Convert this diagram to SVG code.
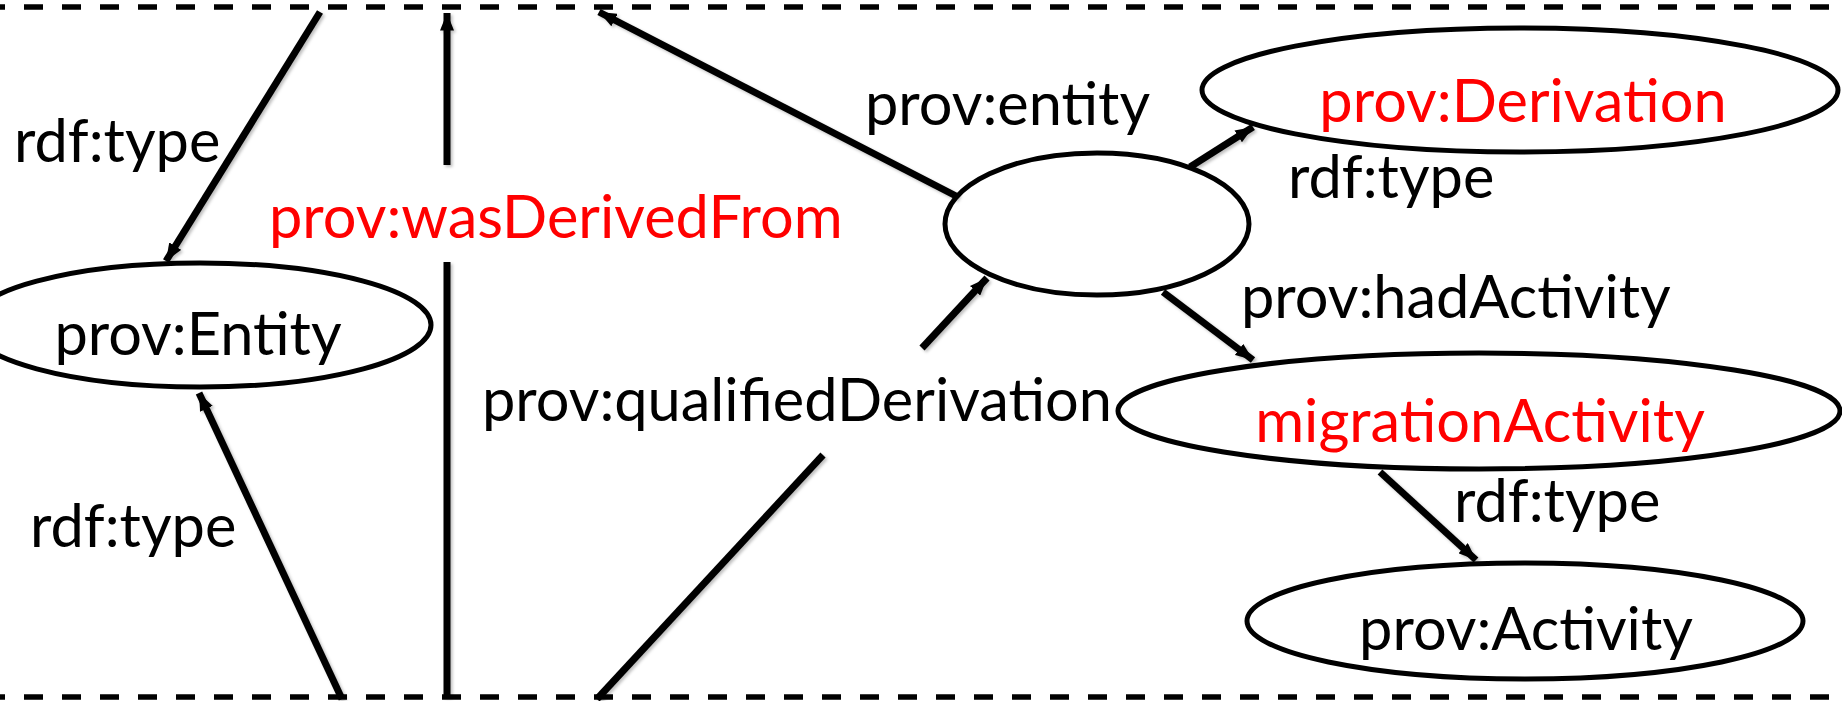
<svg xmlns="http://www.w3.org/2000/svg" width="1842" height="701" viewBox="0 0 1842 701">
<style>
.node{fill:#fff;stroke:#000;stroke-width:5}
.edge{stroke:#000;stroke-width:7;fill:none;filter:url(#sh)}
.dash{stroke:#000;stroke-width:5.5;stroke-dasharray:19 19;stroke-dashoffset:14;fill:none}
.lbl{font-family:Lato,"Liberation Sans",sans-serif;font-size:59.5px;fill:#000}
.red{fill:#ff0000}
</style>
<defs>
<marker id="ah" viewBox="0 0 10 8" refX="10" refY="4" markerWidth="2.5" markerHeight="2" orient="auto" markerUnits="strokeWidth">
<path d="M0,0 L10,4 L0,8 z" fill="#000"/>
</marker>
<filter id="sh" filterUnits="userSpaceOnUse" x="0" y="0" width="1842" height="701">
<feDropShadow dx="2" dy="2" stdDeviation="1.5" flood-color="#000" flood-opacity="0.25"/>
</filter>
</defs>
<rect width="1842" height="701" fill="#fff"/>
<g id="frame">
<line class="dash" x1="0" y1="7" x2="1842" y2="7"/>
<line class="dash" x1="0" y1="697" x2="1842" y2="697"/>
</g>
<g id="entity">
<ellipse class="node" cx="200" cy="325" rx="231" ry="62"/>
<text class="lbl" x="198" y="355" text-anchor="middle">prov:Entity</text>
</g>
<g id="derivationNode">
<ellipse class="node" cx="1097" cy="224" rx="152" ry="71"/>
</g>
<g id="derivationType">
<ellipse class="node" cx="1520" cy="90" rx="318" ry="62"/>
<text class="lbl red" x="1523" y="122" text-anchor="middle">prov:Derivation</text>
</g>
<g id="migrationActivity">
<ellipse class="node" cx="1479" cy="411" rx="361" ry="58"/>
<text class="lbl red" x="1480" y="442" text-anchor="middle">migrationActivity</text>
</g>
<g id="activity">
<ellipse class="node" cx="1525" cy="621" rx="278" ry="58"/>
<text class="lbl" x="1526" y="650" text-anchor="middle">prov:Activity</text>
</g>
<g id="connectors">
<line class="edge" x1="320" y1="12" x2="166" y2="261" marker-end="url(#ah)"/>
<line class="edge" x1="447" y1="697" x2="447" y2="262"/>
<line class="edge" x1="447" y1="165" x2="447" y2="13" marker-end="url(#ah)"/>
<line class="edge" x1="958" y1="197" x2="599" y2="12" marker-end="url(#ah)"/>
<line class="edge" x1="342" y1="699" x2="199" y2="393" marker-end="url(#ah)"/>
<line class="edge" x1="597" y1="699" x2="823" y2="455"/>
<line class="edge" x1="922" y1="348" x2="987" y2="278" marker-end="url(#ah)"/>
<line class="edge" x1="1190" y1="167" x2="1253" y2="127" marker-end="url(#ah)"/>
<line class="edge" x1="1163" y1="292" x2="1253" y2="360" marker-end="url(#ah)"/>
<line class="edge" x1="1380" y1="472" x2="1476" y2="560" marker-end="url(#ah)"/>
</g>
<g id="labels">
<text class="lbl" x="14" y="162">rdf:type</text>
<text class="lbl red" x="269" y="238">prov:wasDerivedFrom</text>
<text class="lbl" x="865" y="125">prov:entity</text>
<text class="lbl" x="1288" y="198">rdf:type</text>
<text class="lbl" x="1241" y="318">prov:hadActivity</text>
<text class="lbl" x="482" y="421">prov:qualifiedDerivation</text>
<text class="lbl" x="1454" y="522">rdf:type</text>
<text class="lbl" x="30" y="547">rdf:type</text>
</g>
</svg>
